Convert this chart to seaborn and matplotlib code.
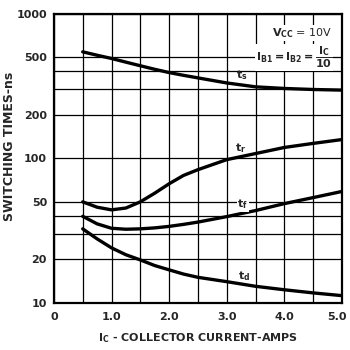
import numpy as np
import pandas as pd
import seaborn as sns
import matplotlib.pyplot as plt
import matplotlib.transforms as mtransforms
from matplotlib.ticker import FixedLocator, NullFormatter

# values (collector current in amps, times in ns)
ic = [0.5, 0.75, 1.0, 1.25, 1.5, 1.75, 2.0, 2.25, 2.5, 3.0, 3.5, 4.0, 4.5, 5.0]
t_s = [547, 518, 492, 464, 438, 414, 393, 376, 361, 333, 313, 305, 300, 297]
t_r = [50, 45.9, 44, 45.3, 50, 57.4, 66.7, 76.2, 83.5, 98, 108, 119, 127, 135]
t_f = [39.7, 35.2, 32.8, 32.3, 32.5, 33, 33.8, 34.9, 36.2, 39.5, 43.5, 48.6, 53.5, 59]
t_d = [32.5, 27.7, 24, 21.5, 19.8, 18.1, 16.9, 15.8, 15.0, 14.0, 13.0, 12.3, 11.7, 11.2]

x_ticks = [0, 1, 2, 3, 4, 5]
x_labels = ["0", "1.0", "2.0", "3.0", "4.0", "5.0"]
y_ticks = [10, 20, 50, 100, 200, 500, 1000]
y_minor = [30, 40, 300, 400]

sns.set_style("white")
plt.rcParams['font.family'] = ['DejaVu Sans']
plt.rcParams['mathtext.default'] = 'bf'

# long table so seaborn draws all four curves
n = len(ic)
df = pd.DataFrame({
    'ic': ic * 4,
    'time': t_s + t_r + t_f + t_d,
    'curve': ['ts'] * n + ['tr'] * n + ['tf'] * n + ['td'] * n,
})

fig = plt.figure(figsize=(3.5, 3.5), dpi=100)
ax = fig.add_axes([0.154, 0.135, 0.823, 0.825])

sns.lineplot(data=df, x='ic', y='time', hue='curve', units='curve', estimator=None,
             palette=['black'] * 4, linewidth=2.4, legend=False, ax=ax, zorder=3)

ax.set_yscale('log')
ax.set_xlim(0, 5)
ax.set_ylim(10, 1000)

ax.xaxis.set_major_locator(FixedLocator(x_ticks))
ax.set_xticklabels(x_labels)
ax.xaxis.set_minor_locator(FixedLocator(np.arange(0.5, 5, 1.0)))
ax.yaxis.set_major_locator(FixedLocator(y_ticks))
ax.set_yticklabels([str(v) for v in y_ticks])
ax.yaxis.set_minor_locator(FixedLocator(y_minor))
ax.yaxis.set_minor_formatter(NullFormatter())

ax.grid(True, which='both', color='black', linewidth=0.9)
ax.tick_params(which='both', length=0, labelsize=8)
ax.tick_params(axis='x', pad=7)
ax.tick_params(axis='y', pad=5)
for lab in ax.get_xticklabels() + ax.get_yticklabels():
    lab.set_fontweight('bold')
# nudge the last x label so it stays inside the figure
last = ax.get_xticklabels()[-1]
last.set_transform(last.get_transform() + mtransforms.ScaledTranslation(-5 / 100, 0, fig.dpi_scale_trans))
for sp in ax.spines.values():
    sp.set_color('black')
    sp.set_linewidth(1.6)

ax.set_xlabel('$I_C$ - COLLECTOR CURRENT-AMPS', fontsize=8, fontweight='bold')
ax.xaxis.set_label_coords(0.5, -0.1)
ax.set_ylabel('SWITCHING TIMES-ns', fontsize=9, fontweight='bold')
ax.yaxis.set_label_coords(-0.13, 0.54)

# curve labels
ax.text(3.26, 340, '$t_s$', fontsize=8, ha='center', va='bottom', zorder=4)
ax.text(3.24, 105, '$t_r$', fontsize=8, ha='center', va='bottom', zorder=4)
ax.text(3.28, 43, '$t_f$', fontsize=8, ha='center', va='bottom',
        bbox=dict(facecolor='white', edgecolor='none', pad=0.5), zorder=4)
ax.text(3.3, 13.6, '$t_d$', fontsize=8, ha='center', va='bottom', zorder=4)

# test conditions
ax.text(4.84, 740, '$V_{CC}$ = 10V', fontsize=8, ha='right', va='center',
        bbox=dict(facecolor='white', edgecolor='none', pad=1), zorder=4)
ax.text(4.84, 500, '$I_{B1} = I_{B2} = \\dfrac{I_C}{10}$', fontsize=8, ha='right', va='center',
        bbox=dict(facecolor='white', edgecolor='none', pad=0.5), zorder=4)

fig.savefig('out.png', dpi=100)
